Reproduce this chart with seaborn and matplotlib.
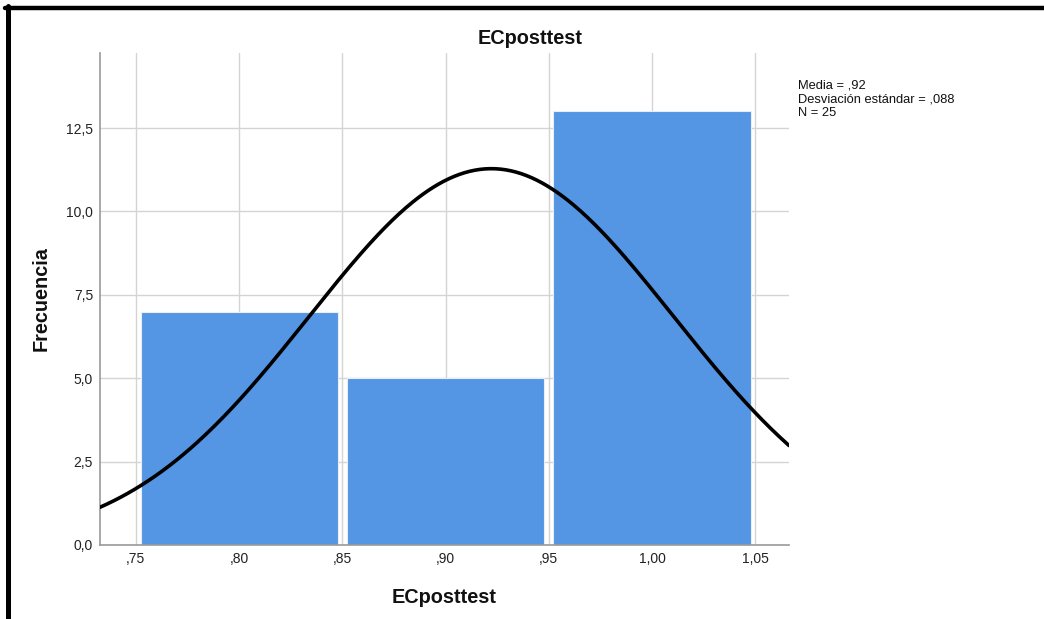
import numpy as np
import pandas as pd
import seaborn as sns
import matplotlib
matplotlib.use("Agg")
import matplotlib.pyplot as plt
from matplotlib.lines import Line2D

# Histogram of ECposttest (binned counts) with fitted normal curve
bin_edges = [0.75, 0.85, 0.95, 1.05]
bin_counts = [7, 5, 13]
mean_val = 0.9222
sd_val = 0.0884
n_val = 25

x_ticks = [0.75, 0.80, 0.85, 0.90, 0.95, 1.00, 1.05]
x_tick_labels = [",75", ",80", ",85", ",90", ",95", "1,00", "1,05"]
y_ticks = [0.0, 2.5, 5.0, 7.5, 10.0, 12.5]
y_tick_labels = ["0,0", "2,5", "5,0", "7,5", "10,0", "12,5"]

sns.set_theme(style="white")
plt.rcParams["font.family"] = ["Liberation Sans", "DejaVu Sans"]

W, H = 1044, 619
fig = plt.figure(figsize=(W / 100, H / 100), dpi=100)
ax = fig.add_axes([100 / W, 1 - 545 / H, (789 - 100) / W, (545 - 53) / H])

centers = [(a + b) / 2 for a, b in zip(bin_edges[:-1], bin_edges[1:])]
df = pd.DataFrame({"ECposttest": centers, "freq": bin_counts})
sns.histplot(data=df, x="ECposttest", weights="freq", bins=bin_edges,
             color="#5495E4", alpha=1.0, edgecolor="#e8eef8", linewidth=0.8,
             shrink=0.955, ax=ax, zorder=2)

xlim = (0.7326, 1.0664)
width = bin_edges[1] - bin_edges[0]
xs = np.linspace(xlim[0], xlim[1], 400)
ys = n_val * width / (sd_val * np.sqrt(2 * np.pi)) * np.exp(-0.5 * ((xs - mean_val) / sd_val) ** 2)
sns.lineplot(x=xs, y=ys, color="black", linewidth=2.6, ax=ax, zorder=3)

ax.set_xlim(*xlim)
ax.set_ylim(0, 14.75)
ax.set_xticks(x_ticks)
ax.set_xticklabels(x_tick_labels)
ax.set_yticks(y_ticks)
ax.set_yticklabels(y_tick_labels)
ax.tick_params(axis="both", labelsize=10, colors="#222222", length=0, pad=5)
ax.grid(True, color="#d4d4d4", linewidth=1.0, zorder=0)
ax.set_axisbelow(True)
for s in ["top", "right"]:
    ax.spines[s].set_visible(False)
for s in ["left", "bottom"]:
    ax.spines[s].set_color("#9a9a9a")
    ax.spines[s].set_linewidth(1.2)

ax.set_xlabel("ECposttest", fontsize=14.3, fontweight="bold", color="#111111")
ax.set_ylabel("Frecuencia", fontsize=14.3, fontweight="bold", color="#111111")
ax.xaxis.set_label_coords(0.5, -(588 - 545) / 492)
ax.yaxis.set_label_coords(-(100 - 51) / 689, 0.5)

fig.text(530 / W, 1 - 38 / H, "ECposttest", ha="center", va="center",
         fontsize=14.3, fontweight="bold", color="#111111")

fig.text(798 / W, 1 - 79 / H,
         f"Media = ,{int(round(mean_val * 100))}\n"
         f"Desviación estándar = ,{int(round(sd_val * 1000)):03d}\n"
         f"N = {n_val}",
         ha="left", va="top", fontsize=9.3, linespacing=1.25, color="#111111")

# Frame lines along the top and left edges
fig.add_artist(Line2D([5 / W, 1.0], [1 - 8 / H, 1 - 8 / H], color="black",
                      linewidth=3.2, transform=fig.transFigure))
fig.add_artist(Line2D([7.5 / W, 7.5 / W], [0, 1 - 6 / H], color="black",
                      linewidth=3.6, transform=fig.transFigure))

fig.savefig("out.png", dpi=100, facecolor="white")
